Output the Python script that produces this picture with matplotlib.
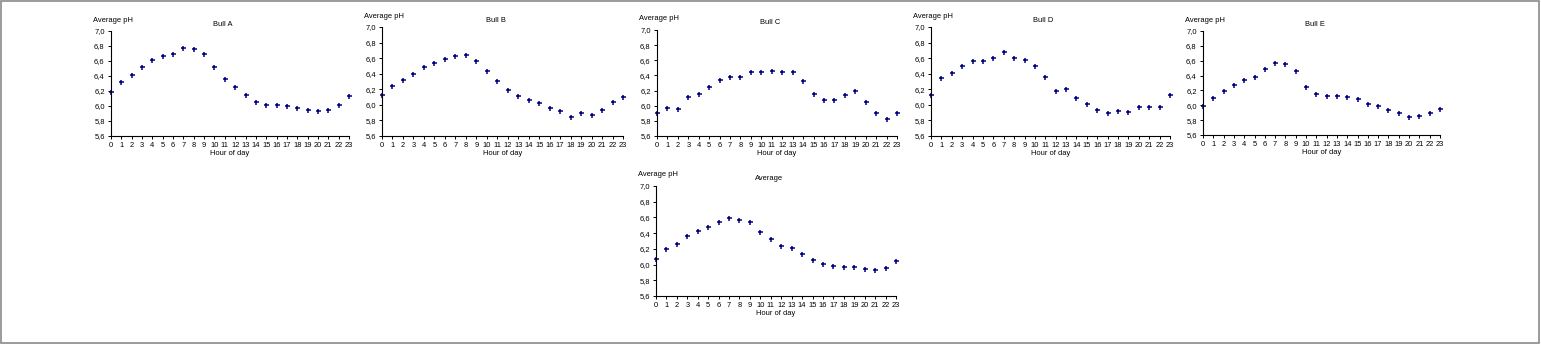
import matplotlib
matplotlib.use('Agg')
import matplotlib.pyplot as plt
from matplotlib.patches import Rectangle
from matplotlib.ticker import FuncFormatter

plt.rcParams['font.family'] = ['Liberation Sans', 'DejaVu Sans']

hours = list(range(24))

bull_a = [6.19, 6.32, 6.42, 6.52, 6.61, 6.67, 6.69, 6.77, 6.76, 6.69, 6.52, 6.36,
          6.25, 6.15, 6.06, 6.02, 6.01, 6.00, 5.97, 5.95, 5.93, 5.95, 6.02, 6.14]
bull_b = [6.13, 6.24, 6.32, 6.40, 6.48, 6.54, 6.59, 6.63, 6.64, 6.56, 6.43, 6.30,
          6.19, 6.11, 6.06, 6.02, 5.96, 5.92, 5.85, 5.89, 5.87, 5.94, 6.04, 6.10]
bull_c = [5.90, 5.97, 5.96, 6.12, 6.16, 6.25, 6.34, 6.38, 6.38, 6.45, 6.44, 6.46,
          6.44, 6.44, 6.32, 6.15, 6.08, 6.08, 6.14, 6.19, 6.05, 5.91, 5.82, 5.90]
bull_d = [6.13, 6.35, 6.41, 6.50, 6.56, 6.56, 6.60, 6.68, 6.60, 6.58, 6.50, 6.36,
          6.18, 6.20, 6.09, 6.01, 5.94, 5.89, 5.92, 5.91, 5.97, 5.97, 5.97, 6.13]
bull_e = [5.99, 6.10, 6.19, 6.27, 6.34, 6.38, 6.49, 6.57, 6.55, 6.46, 6.25, 6.15,
          6.13, 6.13, 6.11, 6.09, 6.02, 5.99, 5.93, 5.89, 5.84, 5.85, 5.90, 5.95]
average = [6.07, 6.20, 6.26, 6.36, 6.43, 6.48, 6.54, 6.59, 6.57, 6.54, 6.42, 6.32,
           6.24, 6.21, 6.13, 6.06, 6.01, 5.98, 5.97, 5.97, 5.94, 5.93, 5.96, 6.05]

titles = ['Bull A', 'Bull B', 'Bull C', 'Bull D', 'Bull E', 'Average']
series = [bull_a, bull_b, bull_c, bull_d, bull_e, average]
yticks = [5.6, 5.8, 6.0, 6.2, 6.4, 6.6, 6.8, 7.0]

W, H = 1541, 349
# axes boxes in pixels: left, right, top, bottom
boxes = [(111, 349, 31, 136), (382, 623, 27, 136), (657, 897, 30, 136),
         (931, 1170, 27, 136), (1203, 1440, 31, 135), (656, 896, 186, 296)]

fig = plt.figure(figsize=(W / 100, H / 100), dpi=100)
fig.patches.append(Rectangle((1 / W, 1 - 343 / H), 1537.5 / W, 342 / H,
                             transform=fig.transFigure, fill=False,
                             edgecolor='#8a8a8a', linewidth=1.2))

fs = 5.4
for title, vals, (l, r, t, b) in zip(titles, series, boxes):
    ax = fig.add_axes([l / W, 1 - b / H, (r - l) / W, (b - t) / H])
    ax.plot(hours, vals, linestyle='none', marker='+', markersize=3.6,
            markeredgewidth=1.1, color='#00007f', clip_on=False)
    ax.set_xlim(0, 23)
    ax.set_ylim(5.6, 7.0)
    ax.set_xticks(hours)
    ax.set_yticks(yticks)
    ax.yaxis.set_major_formatter(FuncFormatter(lambda v, p: f'{v:.1f}'.replace('.', ',')))
    for s in ['top', 'right']:
        ax.spines[s].set_visible(False)
    for s in ['left', 'bottom']:
        ax.spines[s].set_linewidth(0.8)
    ax.tick_params(labelsize=fs, length=2.5, width=0.7, pad=2, colors='black')
    ax.set_xlabel('Hour of day', fontsize=fs, labelpad=0.3)
    fig.text((l - 18) / W, 1 - (t - 11) / H, 'Average pH', fontsize=fs,
             ha='left', va='center')
    fig.text(((l + r) / 2 - 7) / W, 1 - (t - 7) / H, title, fontsize=fs,
             ha='center', va='center')

fig.savefig('out.png', dpi=100)
